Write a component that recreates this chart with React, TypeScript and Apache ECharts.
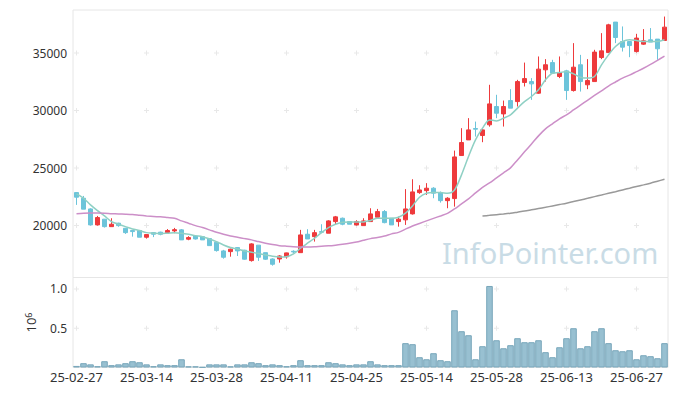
import React, { useEffect, useRef } from "react";
import * as echarts from "echarts";

const DATES: string[] = [
  "25-02-27", "25-02-28", "25-03-04", "25-03-05", "25-03-06", "25-03-07", "25-03-10", "25-03-11", "25-03-12", "25-03-13",
  "25-03-14", "25-03-17", "25-03-18", "25-03-19", "25-03-20", "25-03-21", "25-03-24", "25-03-25", "25-03-26", "25-03-27",
  "25-03-28", "25-03-31", "25-04-01", "25-04-02", "25-04-03", "25-04-04", "25-04-07", "25-04-08", "25-04-09", "25-04-10",
  "25-04-11", "25-04-14", "25-04-15", "25-04-16", "25-04-17", "25-04-18", "25-04-21", "25-04-22", "25-04-23", "25-04-24",
  "25-04-25", "25-04-28", "25-04-29", "25-04-30", "25-05-02", "25-05-07", "25-05-08", "25-05-09", "25-05-12", "25-05-13",
  "25-05-14", "25-05-15", "25-05-16", "25-05-19", "25-05-20", "25-05-21", "25-05-22", "25-05-23", "25-05-26", "25-05-27",
  "25-05-28", "25-05-29", "25-05-30", "25-06-02", "25-06-04", "25-06-05", "25-06-09", "25-06-10", "25-06-11", "25-06-12",
  "25-06-13", "25-06-16", "25-06-17", "25-06-18", "25-06-19", "25-06-20", "25-06-23", "25-06-24", "25-06-25", "25-06-26",
  "25-06-27", "25-06-30", "25-07-01", "25-07-02", "25-07-03",
];

const OPEN: number[] = [
  22870, 22380, 21450, 20060, 20560, 19910, 20210, 19770, 19570, 19570,
  18990, 19390, 19430, 19390, 19540, 19630, 18820, 19100, 19040, 18870,
  18560, 17800, 17740, 18090, 17860, 16960, 18300, 17650, 17100, 17100,
  17290, 17770, 17650, 19250, 19040, 19480, 19340, 20350, 20640, 20350,
  20060, 20000, 20350, 20730, 21220, 20640, 20350, 20500, 21020, 22870,
  23040, 23250, 22870, 22170, 22350, 26090, 27450, 28440, 27830, 28760,
  30350, 29710, 30870, 30780, 32440, 32520, 31510, 33540, 34170, 32960,
  33450, 31740, 33980, 32240, 32520, 34610, 35040, 37690, 36000, 36000,
  35130, 35770, 36150, 36210, 36090,
];
const CLOSE: number[] = [
  22470, 21430, 20060, 20700, 19910, 20120, 20000, 19390, 19480, 18990,
  19220, 19250, 19250, 19570, 19650, 18760, 18960, 18840, 18760, 18260,
  17830, 17250, 17950, 17800, 17080, 18410, 17250, 17080, 16640, 17360,
  17630, 17710, 19190, 18840, 19390, 19420, 20410, 20760, 20120, 20120,
  20350, 20410, 21020, 21220, 20260, 20060, 20560, 21450, 22930, 23100,
  23250, 22820, 22170, 22380, 25970, 27220, 28320, 28380, 28320, 30580,
  29770, 30350, 30210, 32520, 32780, 32320, 33600, 33980, 33250, 33310,
  31740, 33770, 32520, 32610, 35080, 35190, 37450, 36350, 35510, 35650,
  36300, 36060, 35950, 35370, 37250,
];
const LOW: number[] = [
  21800, 21430, 20000, 20000, 19830, 19910, 19900, 19280, 19040, 18990,
  18870, 19000, 19160, 19300, 19340, 18760, 18730, 18790, 18760, 18260,
  17740, 17130, 17300, 17360, 17040, 16870, 16930, 17020, 16520, 16780,
  17130, 17620, 17650, 18840, 18610, 19340, 19340, 20060, 20030, 20120,
  20000, 20000, 20350, 20730, 20200, 20060, 19910, 20060, 20960, 22760,
  22670, 22380, 22000, 21510, 21650, 26090, 27450, 27740, 27250, 28600,
  29340, 28610, 30210, 30350, 32090, 30930, 31450, 32520, 33200, 32820,
  30930, 31650, 31650, 31860, 32520, 34470, 35040, 35860, 35130, 34640,
  35040, 35710, 35950, 34410, 36090,
];
const HIGH: number[] = [
  22900, 22580, 21510, 20840, 20560, 20640, 20250, 19800, 19570, 19570,
  19220, 19420, 19470, 19700, 19800, 19700, 19080, 19150, 19040, 18870,
  18560, 17890, 18000, 18130, 17900, 18470, 18300, 17650, 17160, 17430,
  17650, 17850, 19630, 19690, 19630, 20120, 20470, 20840, 20700, 20350,
  20470, 20640, 21510, 21450, 21350, 20640, 20780, 23170, 24030, 23510,
  23690, 23340, 22960, 22470, 26520, 28470, 29340, 29040, 28470, 32240,
  31370, 30870, 31860, 32670, 34170, 32820, 34700, 34470, 34410, 34700,
  33540, 35860, 34840, 34470, 35280, 36730, 37540, 37690, 37310, 36000,
  36670, 37080, 37170, 36210, 38170,
];

const MA5: number[] = [
  22760, 22380, 21800, 21300, 20840, 20350, 20120, 19910, 19710, 19570,
  19390, 19340, 19300, 19340, 19390, 19340, 19250, 19130, 19040, 18840,
  18610, 18320, 18090, 17970, 17800, 17690, 17570, 17450, 17340, 17280,
  17300, 17540, 18030, 18470, 18900, 19390, 19830, 20120, 20300, 20320,
  20320, 20320, 20450, 20640, 20640, 20640, 20730, 21080, 21710, 22470,
  22820, 22870, 22870, 22820, 23100, 24410, 26000, 27450, 28470, 29190,
  29100, 29340, 29630, 30210, 30780, 31220, 31800, 32670, 33250, 33300,
  33390, 33190, 32900, 32820, 32960, 33970, 34840, 35570, 36000, 36150,
  36090, 36000, 36000, 36000, 36150,
];
const MA20: number[] = [
  21040, 21080, 21100, 21100, 21080, 21040, 21010, 20990, 20960, 20900,
  20840, 20790, 20760, 20700, 20640, 20410, 20210, 20000, 19830, 19630,
  19420, 19250, 19100, 18990, 18870, 18760, 18610, 18470, 18350, 18260,
  18210, 18170, 18150, 18150, 18170, 18210, 18240, 18300, 18380, 18470,
  18580, 18730, 18870, 18970, 19100, 19280, 19410, 19700, 19970, 20190,
  20410, 20630, 20840, 21060, 21450, 21890, 22320, 22840, 23320, 23710,
  24150, 24580, 25020, 25710, 26410, 27100, 27800, 28410, 28850, 29280,
  29630, 30050, 30470, 30890, 31310, 31720, 32130, 32480, 32820, 33080,
  33380, 33680, 34010, 34370, 34730,
];
const MA60_START = 58;
const MA60: number[] = [
  20840, 20890, 20950, 21010, 21080, 21170, 21260, 21370, 21480, 21590,
  21710, 21830, 21950, 22090, 22230, 22370, 22520, 22660, 22810, 22950,
  23100, 23250, 23400, 23540, 23690, 23860, 24030,
];

// volume in units of 10^6
const VOLUME: number[] = [
  0.02, 0.055, 0.04, 0.017, 0.08, 0.03, 0.04, 0.055, 0.08, 0.067,
  0.04, 0.017, 0.04, 0.03, 0.03, 0.105, 0.015, 0.015, 0.005, 0.04,
  0.04, 0.04, 0.015, 0.04, 0.04, 0.067, 0.055, 0.03, 0.04, 0.03,
  0.017, 0.03, 0.093, 0.03, 0.03, 0.03, 0.067, 0.055, 0.04, 0.03,
  0.04, 0.04, 0.08, 0.04, 0.03, 0.03, 0.03, 0.31, 0.297, 0.131,
  0.105, 0.182, 0.093, 0.08, 0.729, 0.462, 0.411, 0.105, 0.271, 1.038,
  0.347, 0.245, 0.284, 0.373, 0.322, 0.322, 0.347, 0.195, 0.131, 0.258,
  0.373, 0.5, 0.245, 0.271, 0.462, 0.5, 0.31, 0.22, 0.207, 0.22,
  0.105, 0.156, 0.144, 0.118, 0.31,
];

const PRICE_TICKS: number[] = [20000, 25000, 30000, 35000];
const VOLUME_TICKS: number[] = [0.5, 1.0];
const LABEL_EVERY = 10;

const PLUS = "path://M4,0H6V4H10V6H6V10H4V6H0V4H4Z";

export default function App() {
  const ref = useRef<HTMLDivElement>(null);

  useEffect(() => {
    document.body.style.margin = "0";
    if (!ref.current) return;
    const chart = echarts.init(ref.current, null, { renderer: "svg" });

    const candles = DATES.map((_, i) => [OPEN[i], CLOSE[i], LOW[i], HIGH[i]]);
    const ma60 = DATES.map((_, i) => (i >= MA60_START ? MA60[i - MA60_START] : null));
    const tickIdx = DATES.map((_, i) => i).filter((i) => i % LABEL_EVERY === 0);
    const priceCross: number[][] = [];
    tickIdx.forEach((i) => PRICE_TICKS.forEach((v) => priceCross.push([i, v])));
    const volCross: number[][] = [];
    tickIdx.forEach((i) => VOLUME_TICKS.forEach((v) => volCross.push([i, v])));

    const font = "Noto Sans";
    const option: any = {
      animation: false,
      backgroundColor: "#ffffff",
      textStyle: { fontFamily: font },
      grid: [
        { left: 73, top: 10, width: 595, height: 267.5, show: true, borderColor: "#e6e6e6", borderWidth: 1 },
        { left: 73, top: 277.5, width: 595, height: 90, show: true, borderColor: "#e6e6e6", borderWidth: 1 },
      ],
      xAxis: [
        {
          type: "category",
          gridIndex: 0,
          data: DATES,
          axisLine: { show: false },
          axisTick: { show: false },
          axisLabel: { show: false },
          splitLine: { show: false },
        },
        {
          type: "category",
          gridIndex: 1,
          data: DATES,
          axisLine: { show: false },
          axisTick: { show: false },
          splitLine: { show: false },
          axisLabel: {
            interval: (i: number) => i % LABEL_EVERY === 0,
            color: "#333",
            fontSize: 13,
            fontFamily: font,
            margin: 3,
          },
        },
      ],
      yAxis: [
        {
          type: "value",
          gridIndex: 0,
          min: 15490,
          max: 38740,
          axisLine: { show: false },
          axisTick: { show: false },
          splitLine: { show: false },
          axisLabel: {
            customValues: PRICE_TICKS,
            color: "#333",
            fontSize: 12,
            fontFamily: font,
            margin: 6,
            formatter: (v: number) => String(v),
          },
        },
        {
          type: "value",
          gridIndex: 1,
          min: 0,
          max: 1.146,
          axisLine: { show: false },
          axisTick: { show: false },
          splitLine: { show: false },
          axisLabel: {
            customValues: VOLUME_TICKS,
            color: "#333",
            fontSize: 12,
            fontFamily: font,
            margin: 6,
            formatter: (v: number) => v.toFixed(1),
          },
          name: "{a|10}{b|6}",
          nameLocation: "middle",
          nameRotate: 90,
          nameGap: 36,
          nameTextStyle: {
            color: "#333",
            fontFamily: font,
            rich: {
              a: { fontSize: 13, color: "#333", fontFamily: font },
              b: { fontSize: 9, color: "#333", fontFamily: font, verticalAlign: "top" },
            },
          },
        },
      ],
      graphic: [
        {
          type: "text",
          left: 442,
          top: 238,
          z: 0,
          silent: true,
          style: {
            text: "InfoPointer.com",
            fill: "#c9dce6",
            font: "29px 'Noto Sans'",
          },
        },
      ],
      series: [
        {
          type: "scatter",
          xAxisIndex: 0,
          yAxisIndex: 0,
          data: priceCross,
          symbol: PLUS,
          symbolSize: 5,
          itemStyle: { color: "#e2e2e2" },
          silent: true,
          z: 1,
        },
        {
          type: "scatter",
          xAxisIndex: 1,
          yAxisIndex: 1,
          data: volCross,
          symbol: PLUS,
          symbolSize: 5,
          itemStyle: { color: "#e2e2e2" },
          silent: true,
          z: 1,
        },
        {
          type: "candlestick",
          xAxisIndex: 0,
          yAxisIndex: 0,
          data: candles,
          barWidth: 5,
          itemStyle: {
            color: "#ee3a3c",
            color0: "#6cc4da",
            borderColor: "#ee3a3c",
            borderColor0: "#6cc4da",
            borderWidth: 1,
          },
          z: 3,
        },
        {
          type: "line",
          xAxisIndex: 0,
          yAxisIndex: 0,
          data: MA5,
          smooth: 0.3,
          showSymbol: false,
          lineStyle: { color: "#8fd0c4", width: 1.5 },
          z: 4,
        },
        {
          type: "line",
          xAxisIndex: 0,
          yAxisIndex: 0,
          data: MA20,
          smooth: 0.3,
          showSymbol: false,
          lineStyle: { color: "#cc8fc8", width: 1.5 },
          z: 4,
        },
        {
          type: "line",
          xAxisIndex: 0,
          yAxisIndex: 0,
          data: ma60,
          smooth: 0.3,
          showSymbol: false,
          lineStyle: { color: "#999999", width: 1.5 },
          z: 4,
        },
        {
          type: "bar",
          xAxisIndex: 1,
          yAxisIndex: 1,
          data: VOLUME,
          barCategoryGap: "6%",
          itemStyle: { color: "#98c0d1", borderColor: "#78a6ba", borderWidth: 1 },
          z: 3,
        },
      ],
    };

    chart.setOption(option);
    return () => chart.dispose();
  }, []);

  return <div ref={ref} style={{ width: 677, height: 396 }} />;
}
